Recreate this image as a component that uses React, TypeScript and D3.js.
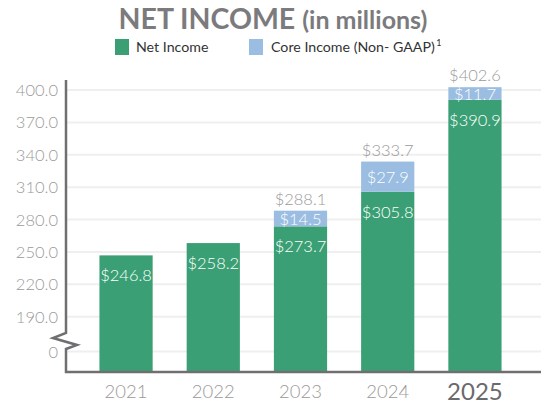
import React from "react";
import * as d3 from "d3";

const years = ["2021", "2022", "2023", "2024", "2025"];
const netIncome = [246.8, 258.2, 273.7, 305.8, 390.9];
const coreAdjustment = [0, 0, 14.5, 27.9, 11.7];
const coreTotal = [null, null, 288.1, 333.7, 402.6];
const yTicks = [190, 220, 250, 280, 310, 340, 370, 400];

const GREEN = "#3a9f74";
const BLUE = "#9abde1";
const AXIS = "#6f6f72";
const GRID = "#efefef";
const FONT = "Lato, 'Open Sans', sans-serif";

const W = 541;
const H = 404;
const axisX = 66;
const baseY = 372;
const zeroY = 351.5;

export default function App() {
  const x = d3.scaleBand<string>().domain(years).range([82, 519]).paddingInner(0.39).paddingOuter(0.2);
  const y = d3.scaleLinear().domain([190, 400]).range([316.7, 90]);
  const bw = x.bandwidth();

  const fmt = (v: number) => "$" + d3.format(".1f")(v);

  return (
    <svg width={W} height={H} style={{ position: "absolute", left: 0, top: 0, background: "#fff" }} fontFamily={FONT}>
      {/* title */}
      <text x={273} y={29} textAnchor="middle" fill="#7b7b7d" fontWeight={700} fontSize={28.5}>
        <tspan>NET INCOME </tspan>
        <tspan fontSize={25}>(in millions)</tspan>
      </text>

      {/* legend */}
      <rect x={115} y={39} width={14} height={16} fill={GREEN} />
      <text x={136} y={52} fontSize={14.2} fill="#333">Net Income</text>
      <rect x={249} y={39} width={14} height={16} fill={BLUE} />
      <text x={271} y={52} fontSize={14.2} fill="#333">
        Core Income (Non- GAAP)
        <tspan dx={1.5} dy={-6} fontSize={9}>1</tspan>
      </text>

      {/* gridlines */}
      {yTicks.map((t) => (
        <line key={t} x1={axisX} x2={W} y1={y(t)} y2={y(t)} stroke={GRID} strokeWidth={2} />
      ))}
      <line x1={axisX} x2={W} y1={zeroY} y2={zeroY} stroke={GRID} strokeWidth={2} />

      {/* y tick labels */}
      {yTicks.map((t) => (
        <text key={t} x={58} y={y(t) + 6} textAnchor="end" fontSize={16.5} fontWeight={300} fill="#9a9a9a">
          {d3.format(".1f")(t)}
        </text>
      ))}
      <text x={58} y={zeroY + 6} textAnchor="end" fontSize={16.5} fontWeight={300} fill="#9a9a9a">0</text>

      {/* bars */}
      {years.map((yr, i) => {
        const bx = x(yr)!;
        const gTop = y(netIncome[i]);
        const total = netIncome[i] + coreAdjustment[i];
        const tTop = y(total);
        const cx = bx + bw / 2;
        return (
          <g key={yr}>
            <rect x={bx} y={gTop} width={bw} height={baseY - gTop} fill={GREEN} />
            {coreAdjustment[i] > 0 && (
              <rect x={bx} y={tTop} width={bw} height={gTop - tTop} fill={BLUE} />
            )}
            <text x={cx} y={gTop + 26} textAnchor="middle" fontSize={16.5} fontWeight={300} fill="#fff">
              {fmt(netIncome[i])}
            </text>
            {coreAdjustment[i] > 0 && (
              <text x={cx} y={(gTop + tTop) / 2 + 6} textAnchor="middle" fontSize={16.5} fontWeight={300} fill="#fff">
                {fmt(coreAdjustment[i])}
              </text>
            )}
            {coreTotal[i] != null && (
              <text x={cx} y={tTop - 6} textAnchor="middle" fontSize={16.5} fontWeight={300} fill="#9a9a9a">
                {fmt(coreTotal[i] as number)}
              </text>
            )}
            <text
              x={cx}
              y={yr === "2025" ? 400 : 398}
              textAnchor="middle"
              fontSize={yr === "2025" ? 24 : 18.5}
              fontWeight={yr === "2025" ? 400 : 300}
              fill={yr === "2025" ? "#6a6a6c" : "#9a9a9a"}
            >
              {yr}
            </text>
          </g>
        );
      })}

      {/* axes with break */}
      <path
        d={`M${axisX},80 V333 L53,338 L77,345 L${axisX},349 V${baseY} H${W}`}
        fill="none"
        stroke={AXIS}
        strokeWidth={2.5}
        strokeLinejoin="miter"
      />
    </svg>
  );
}
